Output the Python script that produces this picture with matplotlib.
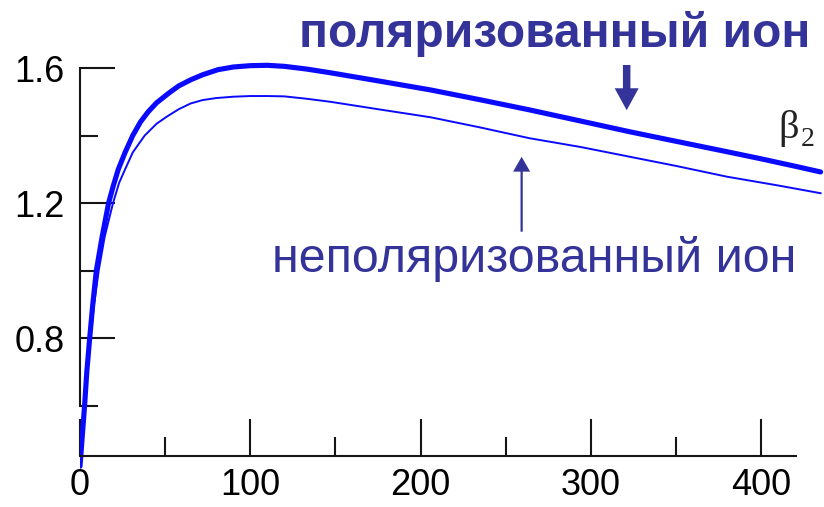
import matplotlib
matplotlib.use('Agg')
import matplotlib.pyplot as plt
from matplotlib.patches import FancyArrow

plt.rcParams['font.family'] = ['Liberation Sans', 'DejaVu Sans']

# beta_2 vs time, polarized ion (thick) and unpolarized ion (thin)
x_pol = [0, 1.5, 2.7, 4, 5.7, 7.5, 9.6, 13, 16.8, 19.5, 22.5, 26.5, 31, 35.5,
         40, 45, 52, 58, 65, 72, 81, 90, 100, 110, 120, 133, 147, 175, 206,
         235, 264, 294, 323, 350, 380, 400, 420, 435]
y_pol = [0.42, 0.52, 0.60, 0.70, 0.80, 0.90, 1.00, 1.10, 1.20, 1.25, 1.30,
         1.35, 1.40, 1.44, 1.47, 1.497, 1.525, 1.547, 1.565, 1.58, 1.595,
         1.603, 1.607, 1.608, 1.605, 1.597, 1.586, 1.562, 1.535, 1.506, 1.476,
         1.443, 1.411, 1.383, 1.352, 1.331, 1.309, 1.292]

x_unpol = [0, 1.5, 2.8, 4.2, 6.2, 8.3, 11, 14.5, 19.4, 23, 26.5, 31, 38, 45,
           51, 58, 65, 72, 80, 90, 100, 110, 120, 133, 147, 175, 206, 235,
           264, 294, 323, 350, 380, 410, 435]
y_unpol = [0.42, 0.52, 0.60, 0.70, 0.80, 0.90, 1.00, 1.10, 1.20, 1.26, 1.30,
           1.35, 1.40, 1.435, 1.456, 1.478, 1.495, 1.505, 1.511, 1.515, 1.517,
           1.517, 1.516, 1.509, 1.500, 1.478, 1.454, 1.424, 1.392, 1.366,
           1.337, 1.310, 1.278, 1.252, 1.229]

x_major = [0, 100, 200, 300, 400]
x_minor = [50, 150, 250, 350]
y_major = [0.8, 1.2, 1.6]
y_minor = [0.6, 1.0, 1.4]

label_pol = 'поляризованный ион'
label_unpol = 'неполяризованный ион'

W, H = 824, 507
fig = plt.figure(figsize=(W / 100, H / 100), dpi=100)
ax = fig.add_axes([80 / W, (H - 473) / H, 744 / W, 455.6 / H])
ax.patch.set_alpha(0)

line_color = '#0a0aff'
text_color = '#333399'
axis_color = '#151515'

ax.plot(x_pol, y_pol, color=line_color, lw=3.7, solid_capstyle='round')
ax.plot(x_unpol, y_unpol, color=line_color, lw=1.4)

ax.set_xlim(0, 437)
ax.set_ylim(0.40, 1.75)

for s in ['top', 'right']:
    ax.spines[s].set_visible(False)
ax.spines['left'].set_bounds(0.6, 1.6)
ax.spines['bottom'].set_position(('data', 0.449))
ax.spines['bottom'].set_bounds(0, 420.6)
for s in ['left', 'bottom']:
    ax.spines[s].set_linewidth(1.5)
    ax.spines[s].set_color(axis_color)

ax.set_xticks(x_major)
ax.set_xticks(x_minor, minor=True)
ax.set_yticks(y_major)
ax.set_yticks(y_minor, minor=True)
ax.set_yticklabels([f'{v:.1f}' for v in y_major])
ax.tick_params(axis='x', which='major', direction='in', length=26.5, width=1.5,
               color=axis_color, labelsize=26, pad=8)
ax.tick_params(axis='x', which='minor', direction='in', length=13.5, width=1.5,
               color=axis_color)
ax.tick_params(axis='y', which='major', direction='in', length=25, width=1.5,
               color=axis_color, labelsize=26, pad=11)
ax.tick_params(axis='y', which='minor', direction='in', length=13, width=1.5,
               color=axis_color)

# arrows pointing at the two curves
ax.add_patch(FancyArrow(321.1, 1.609, 0, -0.134, width=4.4, head_width=14.1,
                        head_length=0.065, length_includes_head=True,
                        color=text_color, lw=0))
ax.add_patch(FancyArrow(259.4, 1.115, 0, 0.222, width=1.3, head_width=10,
                        head_length=0.044, length_includes_head=True,
                        color=text_color, lw=0))

# upright serif beta with subscript
ax.text(410, 1.392, 'β', fontsize=29, family='Liberation Serif',
        color='#222222', ha='left', va='baseline')
ax.text(423.5, 1.368, '2', fontsize=20, family='Liberation Serif',
        color='#222222', ha='left', va='baseline')

fig.text(810 / W, 1 - 47 / H, label_pol, fontsize=34.5, fontweight='bold',
         color=text_color, ha='right', va='baseline')
fig.text(272 / W, 1 - 272 / H, label_unpol, fontsize=34.8,
         color=text_color, ha='left', va='baseline')

fig.savefig('out.png', dpi=100)
